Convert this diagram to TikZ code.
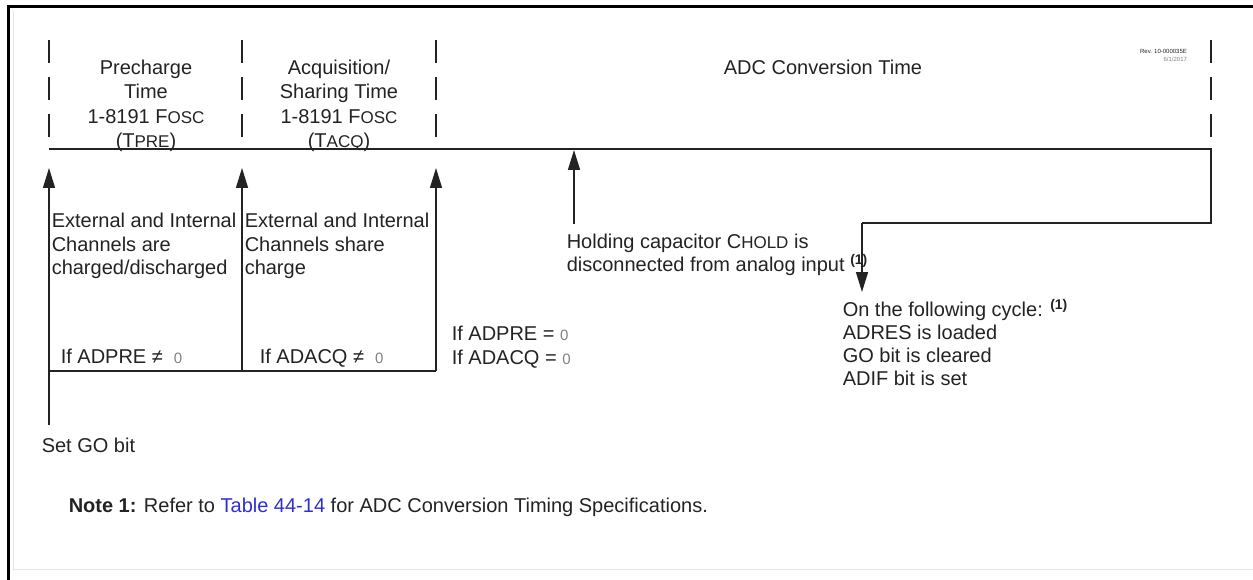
\documentclass[tikz,border=0pt]{standalone}
\usepackage{fontspec}
\setmainfont{Liberation Sans}
\usetikzlibrary{arrows.meta}
\definecolor{inkgray}{HTML}{232323}
\definecolor{linkblue}{HTML}{2E2ED6}
\newcommand{\lo}[1]{{\fontsize{17}{17}\selectfont #1}}
\newcommand{\nt}{\textsuperscript{\bfseries(1)}}
\newcommand{\zr}{{\color{gray}{\fontsize{15}{15}\selectfont 0}}}
\begin{document}
\begin{tikzpicture}[x=1pt,y=-1pt,>={Triangle[length=20pt,width=12pt]}, font=\fontsize{20}{23.5}\selectfont, line join=miter, line width=1.5pt, draw=inkgray, text=inkgray]
			\def\yT{149}
			\def\yB{371}
			\useasboundingbox (0,0) rectangle (1253,580);
			\draw[line width=3pt,black] (1253,7)--(8,7)--(8,580);
			\draw[gray!20,line width=1pt] (13,11)--(13,569)--(1253,569);
			\path (49,\yT) coordinate (P0)
			(242,\yT) coordinate (P1)
			(436,\yT) coordinate (P2)
			(1211,\yT) coordinate (P3)
			(574,\yT) coordinate (H)
			(49,\yB) coordinate (Q0)
			(242,\yB) coordinate (Q1)
			(436,\yB) coordinate (Q2)
			(49,425) coordinate (G)
			(574,224) coordinate (H1)
			(1211,223) coordinate (R1)
			(862,223) coordinate (R2)
			(862,292) coordinate (R3)
			;
			\foreach \x in {49,242,436,1211}
			\draw[line width=2pt,line cap=butt,dash pattern=on 23pt off 14pt] (\x,40)--(\x,137);
			\draw (P0)--(P3)--(R1)--(R2);
			\draw[->] (R2)--(R3);
			\draw (Q0)--(Q2);
			\draw[->,shorten >=19pt] (G)--(P0);
			\draw[->,shorten >=19pt] (Q1)--(P1);
			\draw[->,shorten >=19pt] (Q2)--(P2);
			\draw[->,shorten >=1pt] (H1)--(H);
			\node[anchor=north,align=center,font=\fontsize{20}{24.5}\selectfont] (pre) at (146,55.5) {Precharge\\Time\\1-8191 F\lo{OSC}\\(T\lo{PRE})};
			\node[anchor=north,align=center,font=\fontsize{20}{24.5}\selectfont] (acq) at (339,55.5) {Acquisition/\\Sharing Time\\1-8191 F\lo{OSC}\\(T\lo{ACQ})};
			\node[anchor=north] (conv) at (823,55.5) {ADC Conversion Time};
			\node[anchor=north east,align=right,font=\fontsize{6}{8}\selectfont,text=gray] (rev) at (1191,45) {\textcolor{inkgray}{Rev. 10-000035E}\\6/1/2017};
			\node[anchor=north west,align=left,inner sep=0pt] (chg) at (51,212.5) {External and Internal\\Channels are\\charged/discharged};
			\node[anchor=north west,align=left,inner sep=0pt] (shr) at (244,212.5) {External and Internal\\Channels share\\charge};
			\node[anchor=base west,inner sep=0pt] (ifpre) at (60,363) {If ADPRE ≠ \ \zr};
			\node[anchor=base west,inner sep=0pt] (ifacq) at (259,363) {If ADACQ ≠ \ \zr};
			\node[anchor=base west,inner sep=0pt] (ifzpre) at (451,340) {If ADPRE = \zr};
			\node[anchor=base west,inner sep=0pt] (ifzacq) at (451,364) {If ADACQ = \zr};
			\node[anchor=north west,align=left,inner sep=0pt] (hold) at (566,233) {Holding capacitor C\lo{HOLD} is\\disconnected from analog input \nt};
			\node[anchor=north west,align=left,inner sep=0pt,font=\fontsize{20}{22.7}\selectfont] (cycle) at (842,298.5) {On the following cycle: \nt\\ADRES is loaded\\GO bit is cleared\\ADIF bit is set};
			\node[anchor=base west,inner sep=0pt] (go) at (41,452) {Set GO bit};
			\node[anchor=base west,inner sep=0pt] (note) at (68,512) {\textbf{Note 1:} Refer to {\color{linkblue}Table 44-14} for ADC Conversion Timing Specifications.};
		\end{tikzpicture}
\end{document}
